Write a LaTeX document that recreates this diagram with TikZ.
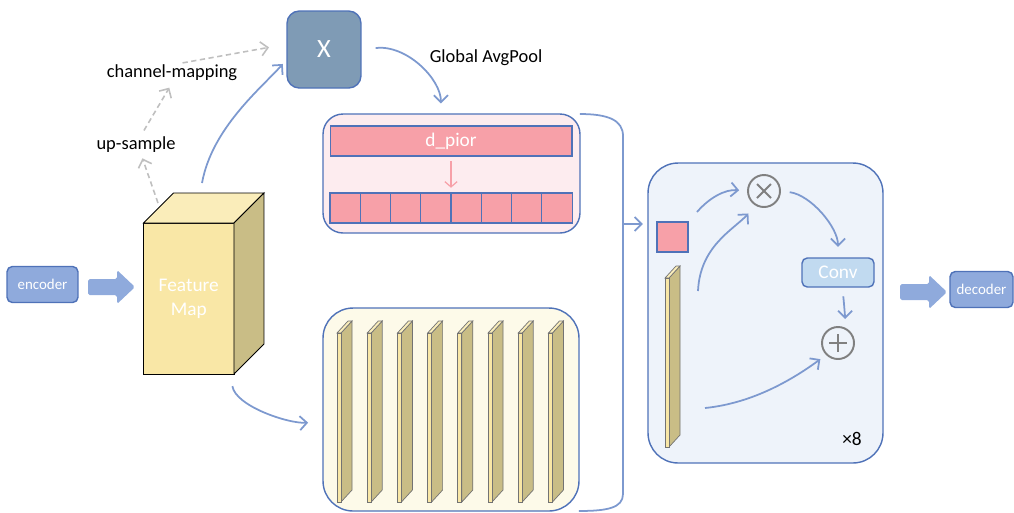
\documentclass[tikz,border=0pt]{standalone}
\usepackage{fontspec}
\setmainfont{Carlito}
\usetikzlibrary{arrows.meta}
\definecolor{colLine}{RGB}{79,114,184}
\definecolor{colArrow}{RGB}{125,153,207}
\definecolor{colBlock}{RGB}{143,170,220}
\definecolor{colPink}{RGB}{247,160,168}
\definecolor{colPinkBg}{RGB}{253,236,239}
\definecolor{colCream}{RGB}{253,250,233}
\definecolor{colIce}{RGB}{238,243,250}
\definecolor{colFront}{RGB}{249,231,166}
\definecolor{colTop}{RGB}{250,237,186}
\definecolor{colSide}{RGB}{201,189,134}
\definecolor{colSlate}{RGB}{127,155,181}
\definecolor{colConv}{RGB}{193,218,240}
\colorlet{colDash}{black!25!white}
\colorlet{colRing}{black!50!white}
\tikzstyle{txt}=[inner sep=1pt, font=\fontsize{10.5}{12}\selectfont]
\tikzstyle{iobox}=[draw=colLine, fill=colBlock, rounded corners=3pt, line width=0.8pt, text=white, font=\fontsize{8.5}{10}\selectfont, minimum height=0.72cm, outer sep=0pt]
\tikzstyle{panel}=[draw=colLine, line width=0.8pt, outer sep=0pt]
\tikzstyle{sq}=[draw=colLine, fill=colPink, line width=0.6pt, minimum width=0.605cm, minimum height=0.6cm, inner sep=0pt, outer sep=0pt]
\tikzstyle{ring}=[circle, draw=colRing, line width=1.1pt, minimum size=0.64cm, inner sep=0pt]
\tikzstyle{ringline}=[colRing, line width=1.1pt]
\tikzstyle{barrow}=[colArrow, line width=1pt, -{Straight Barb[length=4pt,width=8pt]}]
\tikzstyle{garrow}=[colDash, line width=0.9pt, dash pattern=on 3pt off 2pt, -{Straight Barb[length=4pt,width=8pt]}]
\tikzstyle{parrow}=[colPink, line width=0.7pt, -{Straight Barb[length=3pt,width=7pt]}]
\tikzstyle{blockarrow}=[fill=colBlock, rounded corners=1pt]
\tikzstyle{boxline}=[black, line width=0.5pt]
\tikzstyle{slabline}=[black!55!white, line width=0.4pt]
% thin slab: left x, top y, bottom y of the front strip
\newcommand{\slab}[3]{%
	\filldraw[slabline, fill=colSide] (#1+4,#2) -- (#1+15,#2-12) -- (#1+15,#3-12) -- (#1+4,#3) -- cycle;
	\filldraw[slabline, fill=colTop] (#1,#2) -- (#1+11,#2-12) -- (#1+15,#2-12) -- (#1+4,#2) -- cycle;
	\filldraw[slabline, fill=colFront] (#1,#2) rectangle (#1+4,#3);
}
% thick arrow: tip x, centre y
\newcommand{\blockarrow}[2]{%
	\fill[blockarrow] (#1-47,#2-8) -- (#1-18,#2-8) -- (#1-18,#2-17) -- (#1,#2) -- (#1-18,#2+17) -- (#1-18,#2+8) -- (#1-47,#2+8) -- cycle;
}

\begin{document}
\begin{tikzpicture}[x=0.02cm, y=-0.02cm]
			\useasboundingbox (0,0) rectangle (1014,512);

			% Encoder
			\node[iobox, minimum width=1.42cm] (enc) at (42.5,284.5) {encoder};
			\blockarrow{135}{287}

			% Feature map
			\node[draw=black, line width=0.5pt, fill=colFront, minimum width=1.81cm, minimum height=3.02cm, outer sep=0pt, text=white, align=center, font=\fontsize{11}{13.5}\selectfont] (fmap) at (188.75,298.5) {Feature\\Map};
			\filldraw[boxline, fill=colTop] (fmap.north west) -- ++(30,-30) -- ++(90.5,0) -- (fmap.north east) -- cycle;
			\filldraw[boxline, fill=colSide] (fmap.north east) -- ++(30,-30) -- ++(0,151) -- (fmap.south east) -- cycle;

			% Upper branch
			\node[txt] (up) at (136,145) {up-sample};
			\node[txt] (cm) at (172,73) {channel-mapping};
			\node[draw=colLine, line width=0.8pt, fill=colSlate, rounded corners=7pt, minimum width=1.48cm, minimum height=1.54cm, text=white, font=\fontsize{15}{18}\selectfont] (X) at (324,49.5) {X};
			\node[txt] (gap) at (486,58) {Global AvgPool};

			\coordinate (fdash) at (158,203);
			\coordinate (ftop) at (202,183);
			\draw[garrow, shorten >=2pt] (fdash) -- ([xshift=3pt]up.south);
			\draw[garrow, shorten <=3pt, shorten >=3pt] ([xshift=3pt]up.north) -- (cm.south);
			\draw[garrow, shorten >=10pt] ([xshift=6pt]cm.north) -- ([yshift=3pt]X.west);
			\draw[barrow, shorten >=3pt] (ftop) .. controls +(10,-55) and +(-25,28) .. ([yshift=-6pt]X.west);

			% Pink panel
			\node[panel, fill=colPinkBg, minimum width=5.14cm, minimum height=2.38cm, rounded corners=0.4cm] (pink) at (451.5,173.5) {};
			\node[draw=colLine, fill=colPink, line width=0.6pt, minimum width=4.84cm, minimum height=0.6cm, text=white, font=\fontsize{11}{13}\selectfont, outer sep=0pt] (dpior) at (451,141) {d\_pior};
			\node[sq] (sq1) at (345.1,208) {};
			\node[sq] (sq2) at (375.4,208) {};
			\node[sq] (sq3) at (405.6,208) {};
			\node[sq] (sq4) at (435.9,208) {};
			\node[sq] (sq5) at (466.1,208) {};
			\node[sq] (sq6) at (496.4,208) {};
			\node[sq] (sq7) at (526.6,208) {};
			\node[sq] (sq8) at (556.9,208) {};
			\draw[parrow, shorten <=3pt, shorten >=3pt] (dpior.south) -- (dpior.south |- sq1.north);
			\draw[barrow, shorten <=8pt, shorten >=6pt] (X.east) .. controls +(45,-5) and +(0,-35) .. ([xshift=-6pt]pink.north);

			% Cream panel
			\node[panel, fill=colCream, minimum width=5.12cm, minimum height=4.06cm, rounded corners=0.6cm] (yel) at (451,409.5) {};
			\slab{337}{333}{502}
			\slab{367.2}{333}{502}
			\slab{397.4}{333}{502}
			\slab{427.6}{333}{502}
			\slab{457.8}{333}{502}
			\slab{488}{333}{502}
			\slab{518.2}{333}{502}
			\slab{548.4}{333}{502}
			\draw[barrow, shorten <=7pt, shorten >=8.5pt] ([xshift=-2pt]fmap.south east) .. controls +(5,32) and +(-35,2) .. ([yshift=-7pt]yel.west);

			% Bracket
			\coordinate (brtop) at (623,136);
			\coordinate (brk) at (623,224);
			\coordinate (brbot) at (623,494);
			\draw[colArrow, line width=1pt] (pink.north east) .. controls +(28,0) and +(0,-16) .. (brtop) -- (brbot) .. controls +(0,14) and +(28,0) .. (yel.south east);

			% Fusion block
			\node[panel, fill=colIce, minimum width=4.7cm, minimum height=6cm, rounded corners=0.6cm] (blk) at (765.5,313) {};
			\node[sq, minimum width=0.62cm] (psq) at (672.5,237) {};
			\draw[barrow, shorten >=8pt] (brk) -- (brk -| psq.west);
			\slab{665}{278}{447}
			\node[ring] (ot) at (764,191) {};
			\node[ring] (op) at (838,343) {};
			\draw[ringline] ([shift={(-7,-7)}]ot.center) -- ([shift={(7,7)}]ot.center);
			\draw[ringline] ([shift={(-7,7)}]ot.center) -- ([shift={(7,-7)}]ot.center);
			\draw[ringline] ([shift={(-9,0)}]op.center) -- ([shift={(9,0)}]op.center);
			\draw[ringline] ([shift={(0,-9)}]op.center) -- ([shift={(0,9)}]op.center);
			\node[draw=colLine, line width=0.8pt, fill=colConv, rounded corners=3pt, minimum width=1.44cm, minimum height=0.58cm, text=white, font=\fontsize{11}{13}\selectfont] (conv) at (838,272.5) {Conv};
			\node[font=\fontsize{11}{13}\selectfont] (rep) at (852,439) {×8};

			\coordinate (s1) at (697,212);
			\coordinate (s2) at (698,291);
			\coordinate (s3) at (705,408);
			\draw[barrow, shorten >=4.5pt] (s1) .. controls +(12,-14) and +(-22,-2) .. (ot.west);
			\draw[barrow, shorten >=6pt] (s2) .. controls +(2,-45) and +(-22,24) .. (ot.240);
			\draw[barrow, shorten <=5pt, shorten >=6pt] (ot.east) .. controls +(30,4) and +(0,-30) .. (conv.north);
			\draw[barrow, shorten <=5pt, shorten >=4pt] ([xshift=2pt]conv.south) .. controls +(2,10) and +(0,-10) .. ([xshift=4pt]op.north);
			\draw[barrow, shorten >=4pt] (s3) .. controls +(50,-5) and +(-30,22) .. (op.225);

			% Decoder
			\blockarrow{947}{292}
			\node[iobox, minimum width=1.26cm] (dec) at (981.5,289.5) {decoder};
		\end{tikzpicture}
\end{document}
